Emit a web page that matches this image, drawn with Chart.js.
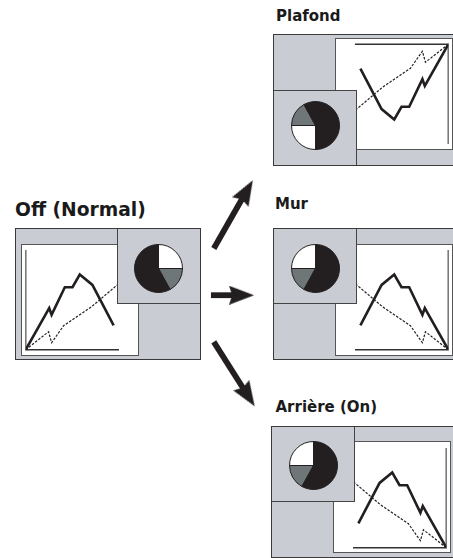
<!DOCTYPE html>
<html>
<head>
<meta charset="utf-8">
<title>Off (Normal) / Plafond / Mur / Arrière (On)</title>
<script src="https://cdn.jsdelivr.net/npm/chart.js"></script>
<style>
  html, body { margin: 0; padding: 0; background: #fff; }
  #page { position: relative; width: 453px; height: 558px; overflow: hidden; }
  .label { position: absolute; font-family: "DejaVu Sans", sans-serif; font-weight: bold; line-height: 1; color: #1a1a1a; white-space: nowrap; }
  .panel { position: absolute; width: 186px; height: 132px; background: #c9ccd2; }
  .frame { position: absolute; left: 0; top: 0; right: 0; bottom: 0; box-sizing: border-box; border: 1.5px solid #3a3a3a; z-index: 3; }
  .screen { position: absolute; left: 6px; top: 15.7px; width: 118.3px; height: 112.3px; box-sizing: border-box; background: #fff; border: 1px solid #555; }
  .lineBox { position: absolute; left: 7px; top: 17px; width: 116px; height: 110px; z-index: 1; }
  .pieBox { position: absolute; left: 101.5px; top: 0; width: 84.5px; height: 76px; box-sizing: border-box; background: #c9ccd2; border: 1px solid #444; z-index: 2; }
  .pieWrap { position: absolute; left: 16.3px; top: 14.8px; width: 49px; height: 49px; }
  #arrows { position: absolute; left: 0; top: 0; width: 453px; height: 558px; z-index: 10; pointer-events: none; }
</style>
</head>
<body>
<div id="page">
  <div class="label" style="left:15px; top:201px; font-size:18.7px;">Off (Normal)</div>
  <div class="label" style="left:276px; top:9px; font-size:15px;">Plafond</div>
  <div class="label" style="left:275px; top:197.3px; font-size:15px;">Mur</div>
  <div class="label" style="left:275.5px; top:399.6px; font-size:15px;">Arrière (On)</div>
  <div id="arrows"><canvas id="arrowChart"></canvas></div>
</div>

<script>
// solid curve (values along the little screen's axes)
const solidX = [0, 23.6, 26, 39.3, 47, 54.3, 67, 88.3];
const solidY = [0, 41.7, 35, 62.7, 62.7, 75.4, 65, 24.4];
// dotted curve, it runs on under the pie window
const dashedX = [0, 23, 26, 38, 66, 92];
const dashedY = [0, 18, 7, 24, 43, 65];

// pie: white, grey, black
const pieValues = [25, 17, 58];
const pieColors = ['#ffffff', '#6e7677', '#231f20'];

// arrows from the "Off" screen to the three others
const arrowTailX = [213, 210, 213];
const arrowTailY = [247, 296, 345];
const arrowTipX = [254, 255, 256];
const arrowTipY = [176, 296, 412];

// the four screens: where they sit and how they are flipped
const panels = [
    { left: 15, top: 228, flip: 'none' },
    { left: 272.7, top: 34.3, flip: 'rotate(180deg)' },
    { left: 272.7, top: 228.3, flip: 'scaleX(-1)' },
    { left: 270.7, top: 425.5, flip: 'scaleX(-1)' }
];

const ink = '#231f20';

function toPoints(xs, ys) {
    return xs.map((x, i) => ({ x: x, y: ys[i] }));
}

function makeLineChart(canvas) {
    return new Chart(canvas, {
        type: 'line',
        data: {
            datasets: [{
                data: toPoints(solidX, solidY),
                borderColor: ink,
                borderWidth: 2.6,
                borderJoinStyle: 'miter',
                pointRadius: 0,
                tension: 0
            }, {
                data: toPoints(dashedX, dashedY),
                borderColor: ink,
                borderWidth: 1.2,
                borderDash: [2.5, 1.5],
                pointRadius: 0,
                tension: 0
            }]
        },
        options: {
            animation: false,
            responsive: true,
            maintainAspectRatio: false,
            events: [],
            layout: { padding: { left: 3.7, top: 6, right: 19.7, bottom: 5.3 } },
            plugins: { legend: { display: false }, tooltip: { enabled: false } },
            scales: {
                x: {
                    type: 'linear', min: 0, max: 93,
                    ticks: { display: false },
                    grid: { display: false, drawTicks: false },
                    border: { display: true, color: '#333', width: 1.6 }
                },
                y: {
                    type: 'linear', min: 0, max: 99,
                    ticks: { display: false },
                    grid: { display: false, drawTicks: false },
                    border: { display: true, color: '#7a7a7a', width: 1.6 }
                }
            }
        }
    });
}

function makePieChart(canvas) {
    return new Chart(canvas, {
        type: 'pie',
        data: {
            labels: ['blanc', 'gris', 'noir'],
            datasets: [{
                data: pieValues,
                backgroundColor: pieColors,
                borderColor: ink,
                borderWidth: 1
            }]
        },
        options: {
            animation: false,
            responsive: true,
            maintainAspectRatio: false,
            events: [],
            plugins: { legend: { display: false }, tooltip: { enabled: false } }
        }
    });
}

const page = document.getElementById('page');
panels.forEach(p => {
    const panel = document.createElement('div');
    panel.className = 'panel';
    panel.style.left = p.left + 'px';
    panel.style.top = p.top + 'px';
    panel.style.transform = p.flip;
    panel.innerHTML =
        '<div class="screen"></div>' +
        '<div class="lineBox"><canvas></canvas></div>' +
        '<div class="pieBox"><div class="pieWrap"><canvas></canvas></div></div>' +
        '<div class="frame"></div>';
    page.appendChild(panel);
    makeLineChart(panel.querySelector('.lineBox canvas'));
    makePieChart(panel.querySelector('.pieWrap canvas'));
});

// arrow head picture, pointing right
const headLen = 25, headWid = 19;
const head = document.createElement('canvas');
head.width = headLen;
head.height = headWid;
const hctx = head.getContext('2d');
hctx.fillStyle = ink;
hctx.beginPath();
hctx.moveTo(0, 0);
hctx.lineTo(headLen, headWid / 2);
hctx.lineTo(0, headWid);
hctx.lineTo(3, headWid / 2);
hctx.closePath();
hctx.fill();

const arrowSets = [];
arrowTailX.forEach((tx, i) => {
    const dx = arrowTipX[i] - tx, dy = arrowTipY[i] - arrowTailY[i];
    const len = Math.hypot(dx, dy);
    const ux = dx / len, uy = dy / len;
    arrowSets.push({
        data: [{ x: tx, y: arrowTailY[i] },
               { x: arrowTipX[i] - ux * (headLen - 5), y: arrowTipY[i] - uy * (headLen - 5) }],
        showLine: true,
        borderColor: ink,
        borderWidth: 5.8,
        borderCapStyle: 'butt',
        pointRadius: 0
    });
    arrowSets.push({
        data: [{ x: arrowTipX[i] - ux * headLen / 2, y: arrowTipY[i] - uy * headLen / 2 }],
        pointStyle: head,
        pointRadius: 12,
        rotation: Math.atan2(dy, dx) * 180 / Math.PI
    });
});

new Chart(document.getElementById('arrowChart'), {
    type: 'scatter',
    data: { datasets: arrowSets },
    options: {
        animation: false,
        responsive: true,
        maintainAspectRatio: false,
        events: [],
        plugins: { legend: { display: false }, tooltip: { enabled: false } },
        scales: {
            x: { type: 'linear', min: 0, max: 453, display: false },
            y: { type: 'linear', min: 0, max: 558, reverse: true, display: false }
        }
    }
});
</script>
</body>
</html>
